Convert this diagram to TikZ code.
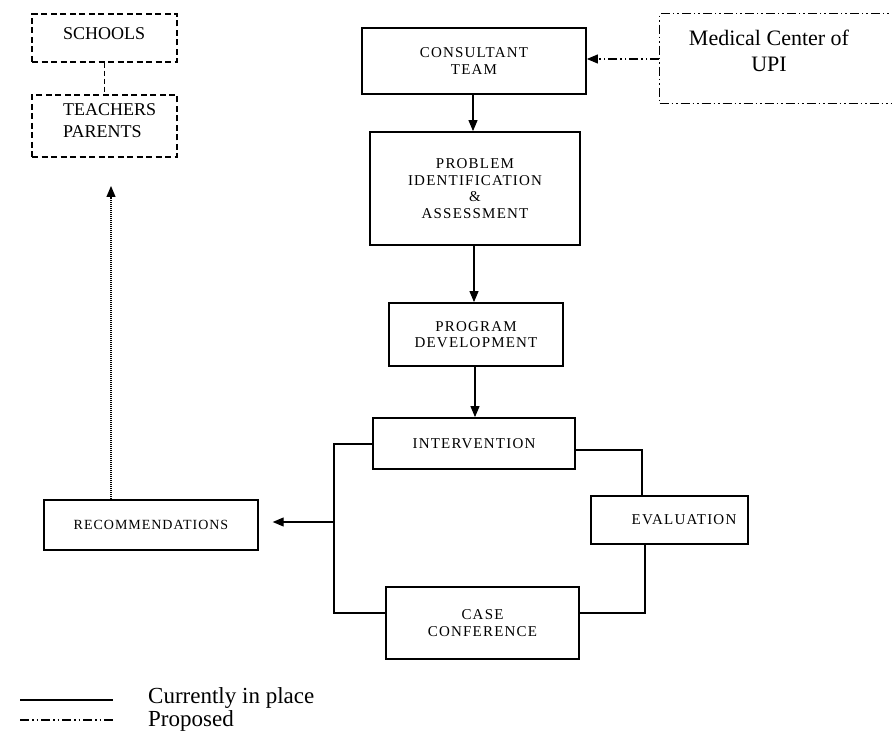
\documentclass[tikz,border=0pt]{standalone}
\usepackage{fontspec}
\setmainfont{Liberation Serif}
\usetikzlibrary{arrows.meta}
\begin{document}
\begin{tikzpicture}[x=1pt,y=-1pt,
  box/.style={draw, line width=1.8pt, inner sep=0pt, align=center, font=\fontsize{15}{16.5}\selectfont\addfontfeature{LetterSpace=8}},
  propbox/.style={draw, line width=1.2pt, dash pattern=on 6pt off 3.5pt, inner sep=0pt},
  proptext/.style={align=left, inner sep=0pt, font=\fontsize{18}{22}\selectfont},
  medbox/.style={draw, line width=1.1pt, dash pattern=on 9pt off 3pt on 1.5pt off 3pt on 1.5pt off 3pt, inner sep=0pt},
  conn/.style={line width=1.1pt},
  tipstyle/.style={-{Triangle[length=11pt,width=9pt]}},
  arr/.style={line width=1.1pt, tipstyle},
  dashdotdot/.style={line width=1.1pt, dash pattern=on 9pt off 3pt on 1.5pt off 3pt on 1.5pt off 3pt}
]
\useasboundingbox (0,0) rectangle (892,741);

% proposed boxes
\node[propbox, minimum width=145pt, minimum height=48pt] (schools) at (104.5,38) {};
\node[proptext, anchor=west] (schoolstext) at (63,34) {SCHOOLS};
\node[propbox, minimum width=145pt, minimum height=62pt] (teachers) at (104.5,126) {};
\node[proptext, anchor=north west] (teacherstext) at (63,103) {TEACHERS\\PARENTS};
\node[medbox, minimum width=233pt, minimum height=90pt, anchor=north west] (med) at (659,13) {};
\node[align=center, inner sep=0pt, anchor=north, font=\fontsize{22}{26}\selectfont] (medtext) at (769,30) {Medical Center of\\UPI};

% main boxes
\node[box, minimum width=224pt, minimum height=66pt] (cons) at (474,61) {CONSULTANT\\TEAM};
\node[box, minimum width=210pt, minimum height=113pt] (prob) at (475,188.5) {PROBLEM\\IDENTIFICATION\\\&\\ASSESSMENT};
\node[box, minimum width=174pt, minimum height=63pt] (prog) at (476,334.5) {PROGRAM\\DEVELOPMENT};
\node[box, minimum width=202pt, minimum height=51pt] (int) at (474,443.5) {INTERVENTION};
\node[box, minimum width=157pt, minimum height=48pt] (eval) at (669.5,520) {};
\node[inner sep=0pt, font=\fontsize{15}{16.5}\selectfont\addfontfeature{LetterSpace=8}] (evaltext) at (684,520) {EVALUATION};
\node[box, minimum width=193pt, minimum height=72pt] (case) at (482.5,623) {CASE\\CONFERENCE};
\node[box, line width=1.4pt, minimum width=214pt, minimum height=50pt, font=\fontsize{14}{16}\selectfont\addfontfeature{LetterSpace=7}] (rec) at (151,525) {RECOMMENDATIONS};

% connectors
\draw[dash pattern=on 5pt off 3pt, line width=1.2pt] (schools.south) -- (teachers.north);
\coordinate (tip) at (111,186);
\draw[line width=1.1pt, dash pattern=on 1.2pt off 0.8pt, tipstyle] (rec.north -| tip) -- (tip);
\coordinate (medy) at (0,59);
\draw[dashdotdot, tipstyle] (med.west |- medy) -- (cons.east |- medy);
\coordinate (ax1) at (473,0);
\coordinate (ax2) at (474,0);
\coordinate (ax3) at (475,0);
\draw[arr] (cons.south -| ax1) -- (prob.north -| ax1);
\draw[arr] (prob.south -| ax2) -- (prog.north -| ax2);
\draw[arr] (prog.south -| ax3) -- (int.north -| ax3);

\coordinate (ly) at (0,444);
\coordinate (lx) at (334,613);
\coordinate (rx) at (642,450);
\coordinate (ex) at (645,613);
\coordinate (ry) at (334,522);
\draw[conn] (int.west |- ly) -| (lx) -- (case.west |- lx);
\draw[conn] (int.east |- rx) -| (eval.north -| rx);
\draw[conn] (eval.south -| ex) -- (ex) -- (case.east |- ex);
\draw[arr] (ry) -- ([xshift=14pt]rec.east |- ry);

% legend
\coordinate (l1a) at (20,700);
\coordinate (l1b) at (113,700);
\coordinate (l2a) at (20,720);
\coordinate (l2b) at (113,720);
\draw[conn] (l1a) -- (l1b);
\draw[dashdotdot] (l2a) -- (l2b);
\node[anchor=west, font=\fontsize{23}{24}\selectfont, inner sep=0pt] (t1) at (148,698) {Currently in place};
\node[anchor=west, font=\fontsize{23}{24}\selectfont, inner sep=0pt] (t2) at (148,721) {Proposed};
\end{tikzpicture}
\end{document}
